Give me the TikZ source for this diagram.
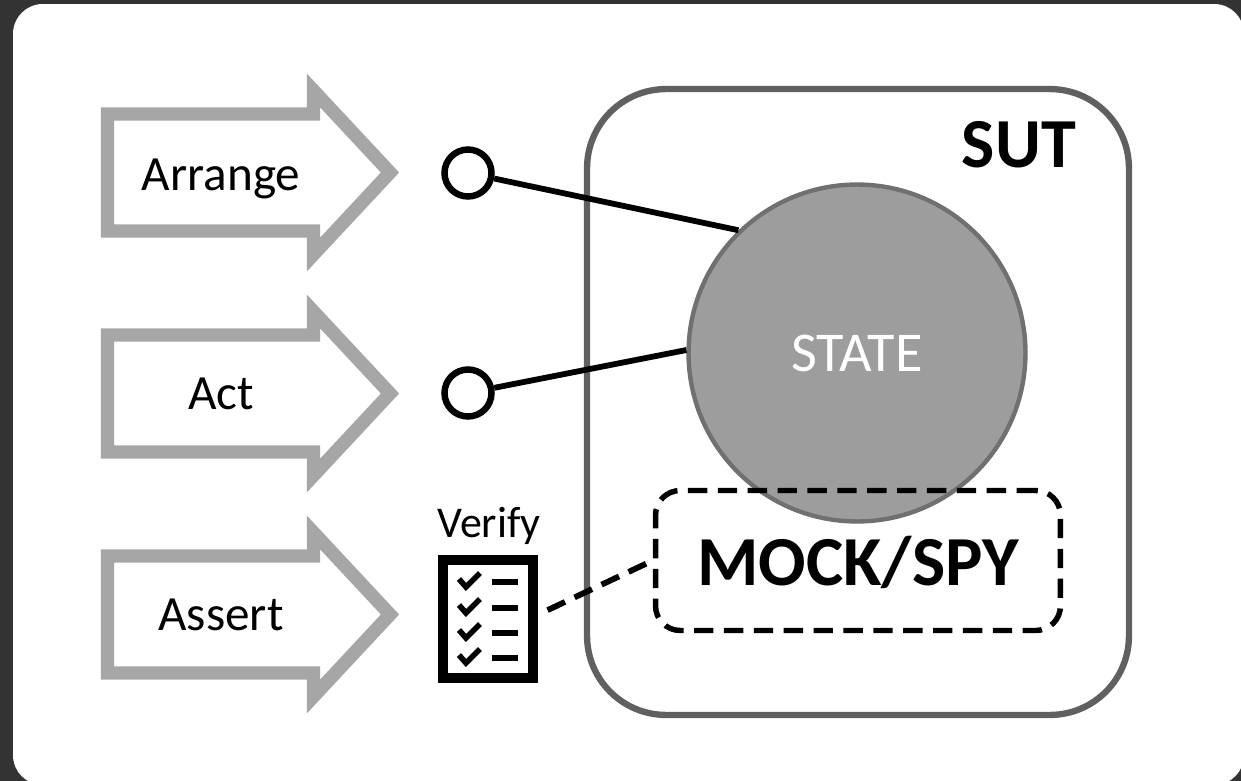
\documentclass[tikz,border=0pt]{standalone}
\usepackage{fontspec}
\setmainfont{Carlito}
\usepackage{tikz}

\definecolor{framedark}{RGB}{51,51,51}
\definecolor{phasegray}{RGB}{166,166,166}
\definecolor{sutgray}{RGB}{96,96,96}
\definecolor{statefill}{RGB}{157,157,157}
\definecolor{stateline}{RGB}{112,112,112}

\tikzset{
  phasearrow/.style={draw=phasegray, line width=7.6pt, line join=miter},
  phasetext/.style={anchor=base, font=\fontsize{28}{34}\selectfont},
  port/.style={circle, draw=black, fill=white, line width=3.7pt, minimum size=0.94cm, inner sep=0pt},
  wire/.style={line width=3.3pt},
  dashwire/.style={line width=3.3pt, dash pattern=on 11pt off 6pt},
  sutbox/.style={draw=sutgray, line width=3.6pt, rounded corners=45pt, minimum width=10.84cm, minimum height=12.52cm, inner sep=0pt},
  statecircle/.style={circle, fill=statefill, draw=stateline, line width=2.5pt, minimum size=6.74cm, inner sep=0pt, text=white, font=\fontsize{32}{38}\selectfont},
  mockbox/.style={draw=black, line width=3.1pt, dash pattern=on 11pt off 6pt, rounded corners=14pt, minimum width=8.1cm, minimum height=2.8cm, inner sep=0pt},
  bigtitle/.style={font=\bfseries\fontsize{40}{48}\selectfont},
  clipbox/.style={draw=black, fill=white, line width=5.7pt, minimum width=1.8cm, minimum height=2.36cm, inner sep=0pt},
  tick/.style={line width=3.2pt}
}

\begin{document}
\begin{tikzpicture}[x=0.02cm, y=-0.02cm]
\useasboundingbox (0,0) rectangle (1241,781);

% Frame
\fill[framedark] (0,0) rectangle (1241,781);
\fill[white, rounded corners=17pt] (13,4) rectangle (1244,785);

% Phase arrows
\draw[phasearrow, shift={(0,172.5)}] (107.5,-58.5) -- (313.5,-58.5) -- (313.5,-82) -- (390,0) -- (313.5,82) -- (313.5,58.5) -- (107.5,58.5) -- cycle;
\draw[phasearrow, shift={(0,393.5)}] (107.5,-58.5) -- (313.5,-58.5) -- (313.5,-82) -- (390,0) -- (313.5,82) -- (313.5,58.5) -- (107.5,58.5) -- cycle;
\draw[phasearrow, shift={(0,614.5)}] (107.5,-58.5) -- (313.5,-58.5) -- (313.5,-82) -- (390,0) -- (313.5,82) -- (313.5,58.5) -- (107.5,58.5) -- cycle;
\node[phasetext] (arrange) at (221,190) {Arrange};
\node[phasetext] (act) at (221,409) {Act};
\node[phasetext] (assert) at (221,630) {Assert};

% System under test
\node[sutbox] (sut) at (858,402) {};
\node[bigtitle, anchor=base east] (suttitle) at (1082,167) {SUT};
\node[statecircle] (state) at (857,353) {STATE};
\node[mockbox] (mock) at (858,560.5) {};
\node[bigtitle, anchor=base] (mocktitle) at (858,585) {MOCK/SPY};

% Ports
\node[port] (portA) at (468,173) {};
\node[port] (portB) at (468,393) {};
\draw[wire] (portA) -- (state.134);
\draw[wire] (portB) -- (state.179);

% Checklist
\node[anchor=base, font=\fontsize{25}{30}\selectfont] (verify) at (489,537) {Verify};
\node[clipbox] (clip) at (488,619) {};
\draw[tick] (459,579) -- (466,587) -- (480,573);
\draw[tick] (459,605) -- (466,613) -- (480,599);
\draw[tick] (459,630) -- (466,638) -- (480,624);
\draw[tick] (459,655) -- (466,663) -- (480,649);
\draw[tick] (492,582) -- (518,582);
\draw[tick] (492,608) -- (518,608);
\draw[tick] (492,633) -- (518,633);
\draw[tick] (492,658) -- (518,658);
\draw[dashwire, shorten <=6pt] (clip.5) -- (mock.west);
\end{tikzpicture}
\end{document}
